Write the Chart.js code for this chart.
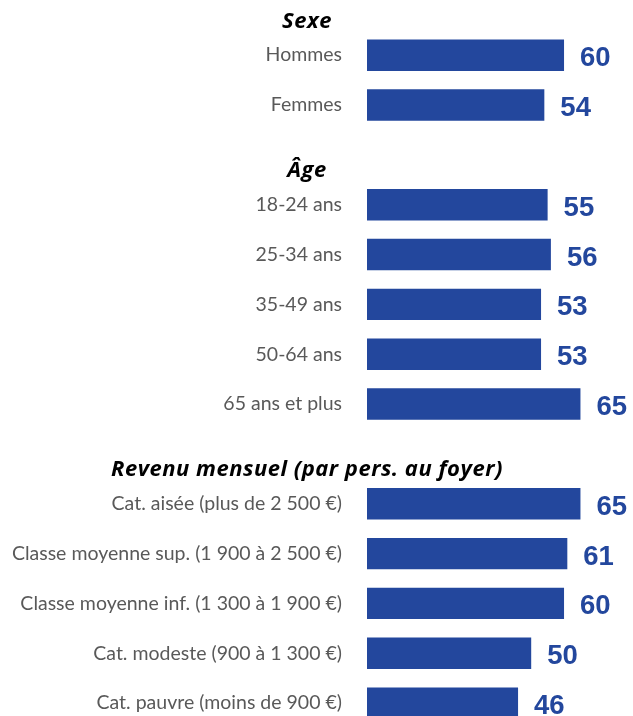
<!DOCTYPE html>
<html><head><meta charset="utf-8">
<script src="https://cdn.jsdelivr.net/npm/chart.js@4"></script>
<style>html,body{margin:0;padding:0;background:#fff;overflow:hidden}#wrap{position:relative;width:633px;height:728px}</style>
</head><body><div id="wrap"><canvas id="c"></canvas></div>
<script>
const sectionTitles = ['Sexe', 'Âge', 'Revenu mensuel (par pers. au foyer)'];
const sexeLabels = ['Hommes', 'Femmes'];
const sexeValues = [60, 54];
const ageLabels = ['18-24 ans', '25-34 ans', '35-49 ans', '50-64 ans', '65 ans et plus'];
const ageValues = [55, 56, 53, 53, 65];
const revenuLabels = ['Cat. aisée (plus de 2 500 €)', 'Classe moyenne sup. (1 900 à 2 500 €)', 'Classe moyenne inf. (1 300 à 1 900 €)', 'Cat. modeste (900 à 1 300 €)', 'Cat. pauvre (moins de 900 €)'];
const revenuValues = [65, 61, 60, 50, 46];

const groups = [[sexeLabels, sexeValues], [ageLabels, ageValues], [revenuLabels, revenuValues]];
const labels = [], values = [], starts = [];
groups.forEach(([l, v], i) => {
  if (i > 0) { labels.push(''); values.push(null); }
  starts.push(labels.length);
  labels.push(...l); values.push(...v);
});

const BLUE = '#23479d';
const overlay = {
  id: 'overlay',
  afterDatasetsDraw(chart) {
    const ctx = chart.ctx, y = chart.scales.y, meta = chart.getDatasetMeta(0);
    ctx.save();
    ctx.fillStyle = BLUE;
    ctx.font = 'bold 27.5px "Liberation Sans", Arial, sans-serif';
    ctx.textAlign = 'left'; ctx.textBaseline = 'alphabetic';
    meta.data.forEach((bar, i) => {
      if (values[i] == null) return;
      ctx.fillText(String(values[i]), bar.x + 16, bar.y + 11);
    });
    ctx.fillStyle = '#000';
    ctx.font = 'italic bold 22px "Open Sans", sans-serif';
    if ('letterSpacing' in ctx) ctx.letterSpacing = '0.5px';
    ctx.textAlign = 'center';
    sectionTitles.forEach((t, i) => {
      ctx.fillText(t, chart.chartArea.left - 60, y.getPixelForValue(starts[i]) - 27.5);
    });
    ctx.restore();
  }
};

new Chart(document.getElementById('c'), {
  type: 'bar',
  data: { labels, datasets: [{ data: values, backgroundColor: BLUE, barPercentage: 0.63, categoryPercentage: 1 }] },
  options: {
    indexAxis: 'y', responsive: true, maintainAspectRatio: false, animation: false,
    layout: { padding: { top: 30.3, bottom: 0, left: 0, right: 0 } },
    plugins: { legend: { display: false }, tooltip: { enabled: false } },
    scales: {
      x: { display: false, min: 0, max: 81 },
      y: {
        afterFit(scale) { scale.width = 367; scale.paddingTop = 0; scale.paddingBottom = 0; },
        grid: { display: false, drawTicks: false }, border: { display: false },
        ticks: { padding: 25, color: '#595959', font: { family: 'Lato', size: 19.5 } }
      }
    }
  },
  plugins: [overlay]
});
</script></body></html>
